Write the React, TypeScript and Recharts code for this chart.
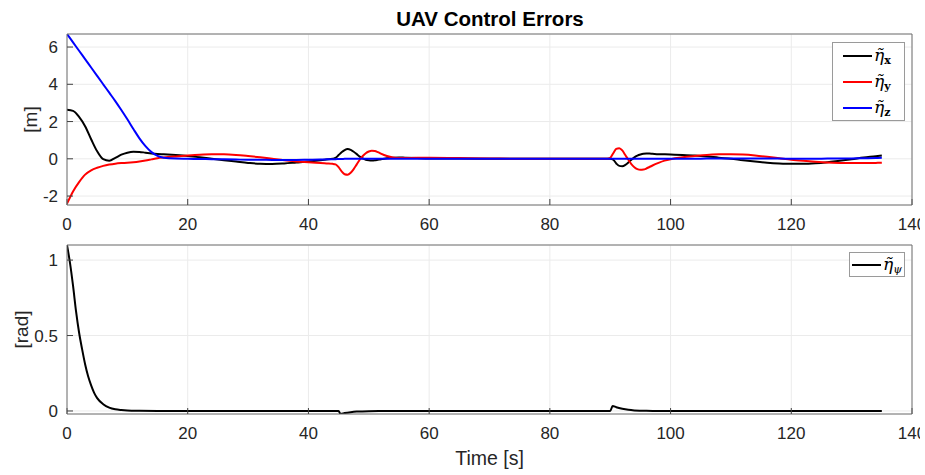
import React from 'react';
import { LineChart, Line, XAxis, YAxis, CartesianGrid, Legend, Label } from 'recharts';

// ---------- data ----------
const TIME_TOP = [
  0, 1, 2, 3, 4, 5, 6, 7, 8, 9, 10, 11, 12, 13, 14, 15, 16,
  18, 20, 22, 24, 26, 28, 30, 32, 34, 36, 38, 40, 42,
  43, 44,
  44.5, 45, 45.5, 46, 46.5, 47, 47.5, 48, 48.5, 49, 49.5, 50, 50.5, 51, 51.5, 52,
  53, 54, 55, 56, 58, 60,
  65, 70, 75, 80, 85, 88, 89,
  89.5, 90, 90.5, 91, 91.5, 92, 92.5, 93, 93.5, 94, 94.5, 95, 95.5, 96, 96.5, 97,
  98, 99, 100,
  102, 104, 106, 108, 110, 112, 114, 116, 118, 120, 122, 124, 126, 128, 130, 132, 134,
  135,
];

const ETA_X = [
  2.63, 2.57, 2.25, 1.75, 1.05, 0.4, -0.02, -0.1, 0.05, 0.22, 0.33, 0.38, 0.37, 0.33, 0.29, 0.26, 0.24,
  0.2, 0.15, 0.08, 0.0, -0.08, -0.15, -0.22, -0.27, -0.28, -0.25, -0.2, -0.15, -0.08,
  -0.04, 0.0,
  0.05, 0.2, 0.35, 0.47, 0.52, 0.48, 0.38, 0.25, 0.12, 0.02, -0.05, -0.08, -0.09, -0.08, -0.05, -0.02,
  0.03, 0.06, 0.07, 0.06, 0.04, 0.02,
  0.01, 0, 0, 0, 0, 0, 0,
  0, 0, -0.05, -0.25, -0.38, -0.4, -0.33, -0.2, -0.05, 0.08, 0.17, 0.23, 0.27, 0.28, 0.28, 0.27,
  0.25, 0.24, 0.23,
  0.21, 0.18, 0.13, 0.06, 0.0, -0.08, -0.15, -0.21, -0.25, -0.27, -0.27, -0.24, -0.18, -0.1, -0.02, 0.07, 0.14,
  0.18,
];

const ETA_Y = [
  -2.41, -1.75, -1.25, -0.85, -0.62, -0.48, -0.38, -0.31, -0.26, -0.23, -0.21, -0.18, -0.14, -0.09, -0.03, 0.03, 0.07,
  0.13, 0.18, 0.22, 0.24, 0.24, 0.21, 0.15, 0.08, 0.0, -0.08, -0.14, -0.19, -0.23,
  -0.25, -0.27,
  -0.3, -0.45, -0.68, -0.83, -0.86, -0.75, -0.55, -0.3, -0.05, 0.15, 0.3, 0.39, 0.43, 0.42, 0.36, 0.28,
  0.15, 0.07, 0.04, 0.04, 0.05, 0.05,
  0.04, 0.02, 0.0, 0, 0, 0, 0,
  0, 0.05, 0.3, 0.53, 0.57, 0.45, 0.2, -0.05, -0.28, -0.45, -0.55, -0.59, -0.58, -0.52, -0.44, -0.36,
  -0.22, -0.1, -0.02,
  0.08, 0.15, 0.21, 0.24, 0.25, 0.23, 0.18, 0.11, 0.03, -0.05, -0.11, -0.16, -0.2, -0.22, -0.23, -0.23, -0.22,
  -0.21,
];

const ETA_Z = [
  6.7, 6.25, 5.8, 5.35, 4.9, 4.45, 4.0, 3.55, 3.1, 2.62, 2.12, 1.6, 1.1, 0.68, 0.36, 0.16, 0.06,
  0.01, 0.0, -0.01, -0.02, -0.03, -0.04, -0.05, -0.05, -0.06, -0.06, -0.06, -0.05, -0.04,
  -0.03, -0.02,
  -0.02, -0.01, -0.01, 0, 0, 0, 0, 0, 0, 0, 0, 0, 0, 0, 0, 0,
  0, 0, 0, 0, 0, 0,
  0, 0, 0, 0, 0, 0, 0,
  0, 0, 0, 0, 0, 0, 0, 0, 0, 0, 0, 0, 0, 0, 0, 0,
  0, 0, 0,
  0, 0, 0.01, 0.01, 0.02, 0.02, 0.02, 0.01, 0.01, 0.0, 0.0, 0.0, 0.01, 0.01, 0.02, 0.03, 0.04,
  0.05,
];

const TIME_BOTTOM = [
  0, 0.5, 1, 1.5, 2, 2.5, 3, 3.5, 4, 4.5, 5,
  6, 7, 8, 9, 10, 12, 15,
  20, 30, 40, 45,
  45.3, 46, 47, 48, 50, 55, 60,
  80, 90,
  90.4, 91, 92, 93, 94, 96, 100,
  120, 135,
];

const ETA_PSI = [
  1.1, 0.98, 0.83, 0.66, 0.52, 0.41, 0.31, 0.23, 0.17, 0.12, 0.085,
  0.045, 0.022, 0.011, 0.006, 0.003, 0.001, 0,
  0, 0, 0, 0,
  -0.02, -0.014, -0.008, -0.004, -0.001, 0, 0,
  0, 0,
  0.033, 0.025, 0.015, 0.008, 0.004, 0.001, 0,
  0, 0,
];

const X_TICKS = [0, 20, 40, 60, 80, 100, 120, 140];
const Y_TICKS_TOP = [-2, 0, 2, 4, 6];
const Y_TICKS_BOTTOM = [0, 0.5, 1];
const X_DOMAIN = [0, 140];
const Y_DOMAIN_TOP = [-2.48, 6.7];
const Y_DOMAIN_BOTTOM = [-0.02, 1.1];

const TITLE = 'UAV Control Errors';
const X_LABEL = 'Time [s]';
const Y_LABEL_TOP = '[m]';
const Y_LABEL_BOTTOM = '[rad]';

const SERIES_TOP = [
  { key: 'ex', sub: 'x', color: '#000000' },
  { key: 'ey', sub: 'y', color: '#ff0000' },
  { key: 'ez', sub: 'z', color: '#0000ff' },
];
const SERIES_BOTTOM = [{ key: 'epsi', sub: 'ψ', color: '#000000' }];

const topData = TIME_TOP.map((t, i) => ({ t, ex: ETA_X[i], ey: ETA_Y[i], ez: ETA_Z[i] }));
const bottomData = TIME_BOTTOM.map((t, i) => ({ t, epsi: ETA_PSI[i] }));

// ---------- styles ----------
const FONT = '"Liberation Sans", Arial, Helvetica, sans-serif';
const SERIF = '"DejaVu Serif", "Liberation Serif", serif';
const TICK_STYLE = { fill: '#262626', fontSize: 17, fontFamily: FONT };
const AXIS_COLOR = '#707070';
const TICKLINE_COLOR = '#404040';
const GRID_COLOR = '#ebebeb';

const EtaLabel = ({ sub }: { sub: string }) => (
  <span style={{ fontFamily: SERIF, fontSize: 17, color: '#000', whiteSpace: 'nowrap' }}>
    <span style={{ fontStyle: 'italic' }}>{'\u03B7\u0303'}</span>
    <sub
      style={{
        fontSize: 11,
        fontStyle: sub === 'ψ' ? 'italic' : 'normal',
        fontWeight: sub === 'ψ' ? 'normal' : 'bold',
        verticalAlign: -3,
      }}
    >
      {sub}
    </sub>
  </span>
);

const makeLegend = (series: { key: string; sub: string; color: string }[], padLeft: number, rowH: number) => () => (
  <div
    style={{
      width: '100%',
      height: '100%',
      boxSizing: 'border-box',
      border: '1px solid #9a9a9a',
      background: '#ffffff',
    }}
  >
    {series.map((s) => (
      <div
        key={s.key}
        style={{ height: rowH, display: 'flex', alignItems: 'center', paddingLeft: padLeft }}
      >
        <svg width={29} height={4} style={{ display: 'block', marginRight: 2 }}>
          <line x1={0} y1={2} x2={29} y2={2} stroke={s.color} strokeWidth={2} />
        </svg>
        <EtaLabel sub={s.sub} />
      </div>
    ))}
  </div>
);

const TopLegend = makeLegend(SERIES_TOP, 10, 26);
const BottomLegend = makeLegend(SERIES_BOTTOM, 2, 23);

const yLabel = (text: string, cx: number) => (props: any) => {
  const vb = props.viewBox || {};
  const cy = vb.y + vb.height / 2;
  return (
    <text
      x={cx}
      y={cy}
      transform={`rotate(-90, ${cx}, ${cy})`}
      textAnchor="middle"
      dominantBaseline="central"
      fill="#262626"
      fontSize={19}
      fontFamily={FONT}
    >
      {text}
    </text>
  );
};

const FrameAxes = ({ domainY, ticksY }: { domainY: number[]; ticksY: number[] }) => null;

export default function App() {
  return (
    <div
      style={{
        position: 'absolute',
        left: 0,
        top: 0,
        width: 925,
        height: 475,
        background: '#ffffff',
        overflow: 'hidden',
        fontFamily: FONT,
      }}
    >
      <div
        style={{
          position: 'absolute',
          left: 290,
          width: 400,
          top: 9,
          textAlign: 'center',
          fontSize: 20.5,
          lineHeight: '20.5px',
          fontWeight: 'bold',
          color: '#000',
          fontFamily: FONT,
        }}
      >
        {TITLE}
      </div>

      {/* Top plot */}
      <div style={{ position: 'absolute', left: 0, top: 0, width: 920, height: 240, overflow: 'hidden' }}>
        <LineChart
          width={920}
          height={240}
          data={topData}
          margin={{ top: 33, right: 7, bottom: 5, left: 0 }}
        >
          <CartesianGrid stroke={GRID_COLOR} strokeWidth={1} />
          <XAxis
            dataKey="t"
            type="number"
            domain={X_DOMAIN}
            ticks={X_TICKS}
            interval={0}
            height={30}
            tickSize={-6}
            tickMargin={19}
            tick={TICK_STYLE}
            axisLine={{ stroke: AXIS_COLOR }}
            tickLine={{ stroke: TICKLINE_COLOR }}
            allowDataOverflow
          />
          <XAxis
            xAxisId="top"
            orientation="top"
            type="number"
            domain={X_DOMAIN}
            ticks={X_TICKS}
            interval={0}
            height={1}
            tick={false}
            tickSize={-6}
            axisLine={{ stroke: AXIS_COLOR }}
            tickLine={{ stroke: TICKLINE_COLOR }}
          />
          <YAxis
            type="number"
            domain={Y_DOMAIN_TOP}
            ticks={Y_TICKS_TOP}
            interval={0}
            width={67}
            tickSize={-6}
            tickMargin={15}
            tick={TICK_STYLE}
            axisLine={{ stroke: AXIS_COLOR }}
            tickLine={{ stroke: TICKLINE_COLOR }}
            allowDataOverflow
          >
            <Label content={yLabel(Y_LABEL_TOP, 30)} />
          </YAxis>
          <YAxis
            yAxisId="right"
            orientation="right"
            type="number"
            domain={Y_DOMAIN_TOP}
            ticks={Y_TICKS_TOP}
            interval={0}
            width={1}
            tick={false}
            tickSize={-6}
            axisLine={{ stroke: AXIS_COLOR }}
            tickLine={{ stroke: TICKLINE_COLOR }}
          />
          {SERIES_TOP.map((s) => (
            <Line
              key={s.key}
              dataKey={s.key}
              type="monotone"
              stroke={s.color}
              strokeWidth={2}
              dot={false}
              isAnimationActive={false}
            />
          ))}
          <Legend
            layout="vertical"
            align="center"
            verticalAlign="middle"
            wrapperStyle={{ left: 832, top: 42, width: 73, height: 79 }}
            content={TopLegend}
          />
        </LineChart>
      </div>

      {/* Bottom plot */}
      <div style={{ position: 'absolute', left: 0, top: 235, width: 920, height: 240, overflow: 'hidden' }}>
        <LineChart
          width={920}
          height={240}
          data={bottomData}
          margin={{ top: 9, right: 7, bottom: 1, left: 0 }}
        >
          <CartesianGrid stroke={GRID_COLOR} strokeWidth={1} />
          <XAxis
            dataKey="t"
            type="number"
            domain={X_DOMAIN}
            ticks={X_TICKS}
            interval={0}
            height={60}
            tickSize={-6}
            tickMargin={19}
            tick={TICK_STYLE}
            axisLine={{ stroke: AXIS_COLOR }}
            tickLine={{ stroke: TICKLINE_COLOR }}
            allowDataOverflow
          >
            <Label
              value={X_LABEL}
              position="insideBottom"
              offset={9}
              fill="#262626"
              fontSize={19.5}
              fontFamily={FONT}
            />
          </XAxis>
          <XAxis
            xAxisId="top"
            orientation="top"
            type="number"
            domain={X_DOMAIN}
            ticks={X_TICKS}
            interval={0}
            height={1}
            tick={false}
            tickSize={-6}
            axisLine={{ stroke: AXIS_COLOR }}
            tickLine={{ stroke: TICKLINE_COLOR }}
          />
          <YAxis
            type="number"
            domain={Y_DOMAIN_BOTTOM}
            ticks={Y_TICKS_BOTTOM}
            interval={0}
            width={67}
            tickSize={-6}
            tickMargin={15}
            tick={TICK_STYLE}
            axisLine={{ stroke: AXIS_COLOR }}
            tickLine={{ stroke: TICKLINE_COLOR }}
            allowDataOverflow
          >
            <Label content={yLabel(Y_LABEL_BOTTOM, 21)} />
          </YAxis>
          <YAxis
            yAxisId="right"
            orientation="right"
            type="number"
            domain={Y_DOMAIN_BOTTOM}
            ticks={Y_TICKS_BOTTOM}
            interval={0}
            width={1}
            tick={false}
            tickSize={-6}
            axisLine={{ stroke: AXIS_COLOR }}
            tickLine={{ stroke: TICKLINE_COLOR }}
          />
          {SERIES_BOTTOM.map((s) => (
            <Line
              key={s.key}
              dataKey={s.key}
              type="monotone"
              stroke={s.color}
              strokeWidth={2}
              dot={false}
              isAnimationActive={false}
            />
          ))}
          <Legend
            layout="vertical"
            align="center"
            verticalAlign="middle"
            wrapperStyle={{ left: 849, top: 17, width: 56, height: 25 }}
            content={BottomLegend}
          />
        </LineChart>
      </div>
    </div>
  );
}
